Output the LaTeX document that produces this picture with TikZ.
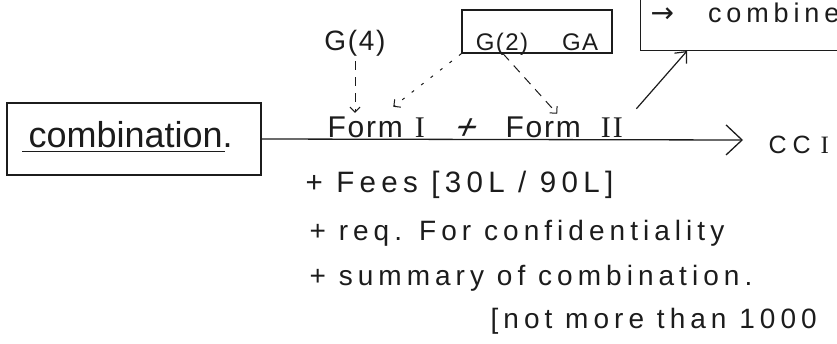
\documentclass[tikz,border=0pt]{standalone}
\usepackage{fontspec}
\setmainfont{Liberation Sans}
\newfontfamily\handA[LetterSpace=18]{Liberation Sans}
\newfontfamily\handB[LetterSpace=6]{Liberation Sans}
\newfontfamily\numf[LetterSpace=6]{Liberation Serif}
\newfontfamily\symf{DejaVu Sans}
\usetikzlibrary{arrows.meta}
\definecolor{ink}{HTML}{1C1C1C}
\begin{document}
\begin{tikzpicture}[x=1pt,y=-1pt,
  line width=1.2pt, draw=ink,
  every node/.style={text=ink, inner sep=2pt},
  box/.style={draw=ink, line width=1.3pt, inner sep=0pt},
  txt/.style={anchor=base west},
  big/.style={font=\fontsize{36}{40}\selectfont},
  formfont/.style={font=\handB\fontsize{30}{34}\selectfont},
  bullet/.style={font=\handA\fontsize{28}{32}\selectfont},
  bigtip/.style={-{Straight Barb[length=16pt,width=30pt]}},
  tipx/.style={-{Straight Barb[length=9pt,width=16pt]}},
  smalltip/.style={-{Straight Barb[length=5pt,width=10pt]}},
  dashA/.style={line width=1pt, dash pattern=on 9pt off 7pt},
  dotA/.style={line width=1pt, dash pattern=on 3pt off 9pt},
]
\useasboundingbox (0,0) rectangle (837,343);
\fill[white] (0,0) rectangle (837,343);
\clip (0,0) rectangle (837,343);

% left box
\node[box, minimum width=254pt, minimum height=72pt] (comb) at (134,139) {};
\node[txt, big, inner sep=0pt] (combt) at (28,147) {combination.};
\draw[line width=1pt] ([xshift=-6pt,yshift=-4pt]combt.base west) -- ([xshift=-8pt,yshift=-4pt]combt.base east);

% forms on the line
\node[txt, formfont] (formI) at (325,137) {Form\hspace{12pt}{\numf I}};
\node[font=\fontsize{36}{40}\selectfont, xslant=0.45, anchor=base, inner sep=0pt] (neq) at (462,139) {+};
\node[txt, formfont] (formII) at (503,137) {Form\hspace{20pt}{\numf II}};

% top items
\node[font=\handB\fontsize{28}{32}\selectfont, anchor=base] (g4) at (355,50) {G(4)};
\node[box, minimum width=150pt, minimum height=43pt, inner xsep=6pt, inner ysep=3pt,
      text height=37pt, text depth=0pt, font=\handB\fontsize{24}{28}\selectfont] (ga) at (537,31.5) {G(2)\hspace{34pt}GA};
\node[box, anchor=south west, minimum width=250pt, minimum height=70pt] (cb) at (640,51) {};
\node[txt, inner sep=0pt] (cbt) at (650,22) {{\symf\fontsize{28}{30}\selectfont →}\hspace{34pt}{\handA\fontsize{27}{30}\selectfont combined}};

% CCI
\node[txt, inner sep=0pt, font=\fontsize{25}{28}\selectfont] (cci) at (768,153) {C\hspace{6pt}C\hspace{10pt}{\numf I}};
\coordinate (tip) at (743,140);

% connectors
\draw[bigtip, line width=1.3pt] (comb.east) -- (tip);
\draw[dashA, smalltip] ([yshift=-3pt]g4.south) -- ([yshift=1pt]g4.south |- formI.north);
\draw[dotA, smalltip] (ga.south west) -- ([xshift=17pt,yshift=7pt]formI.north);
\draw[dashA, smalltip] ([xshift=-34pt]ga.south) -- ([xshift=-7pt]formII.north);
\draw[tipx] ([xshift=11pt,yshift=5pt]formII.north east) -- ([xshift=47pt]cb.south west);

% bullets
\node[txt, bullet, font=\handA\fontsize{29.5}{33}\selectfont] (b1) at (303,192) {+ Fees [30L / 90L]};
\node[txt, bullet] (b2) at (307,240) {+ req. For confidentiality};
\node[txt, bullet] (b3) at (307,285) {+ summary of combination.};
\node[txt, bullet] (b4) at (488,328) {[not more than 1000};
\end{tikzpicture}
\end{document}
